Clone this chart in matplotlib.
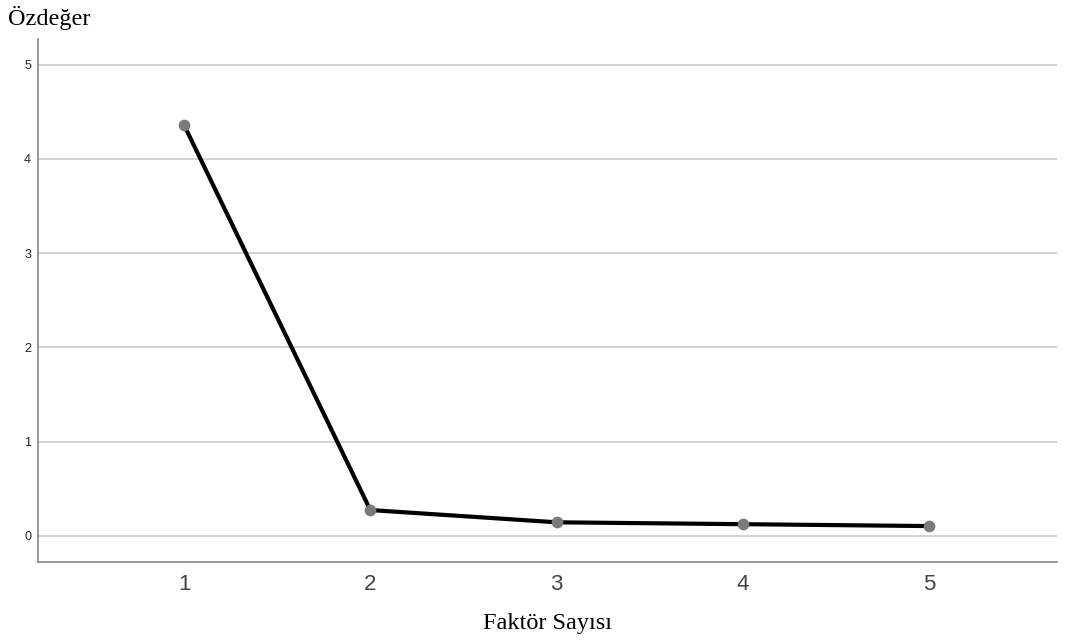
import numpy as np
import matplotlib.pyplot as plt

factors = [1, 2, 3, 4, 5]
eigenvalues = [4.36, 0.275, 0.145, 0.125, 0.105]
y_ticks = [0, 1, 2, 3, 4, 5]

fig = plt.figure(figsize=(10.71, 6.43), dpi=100)
ax = fig.add_axes([0.0355, 0.126, 0.9515, 0.813])

ax.plot(factors, eigenvalues, color='black', linewidth=3, zorder=3)
ax.scatter(factors, eigenvalues, s=55, color='#7a7a7a', zorder=4)

ax.set_xlim(0.216, 5.687)
ax.set_ylim(-0.276, 5.27)
ax.set_xticks(factors)
ax.set_yticks(y_ticks)
ax.tick_params(axis='x', length=0, labelsize=16, labelcolor='#444444', pad=9)
ax.tick_params(axis='y', length=0, labelsize=9, labelcolor='#222222', pad=5)
for lbl in ax.get_xticklabels() + ax.get_yticklabels():
    lbl.set_family('Liberation Sans')

ax.grid(axis='y', color='#cccccc', linewidth=1.2)
ax.set_axisbelow(True)
for s in ['top', 'right']:
    ax.spines[s].set_visible(False)
for s in ['left', 'bottom']:
    ax.spines[s].set_color('#888888')
    ax.spines[s].set_linewidth(1.2)

fig.text(0.0075, 0.972, 'Özdeğer', family='Liberation Serif', fontsize=17.5, va='center', ha='left')
fig.text(0.511, 0.031, 'Faktör Sayısı', family='Liberation Serif', fontsize=17.5, va='center', ha='center')

fig.savefig('out.png', dpi=100)
